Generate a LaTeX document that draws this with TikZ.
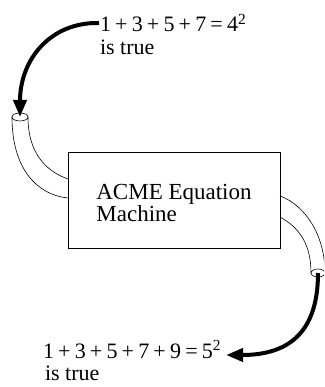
\documentclass[tikz,border=0pt]{standalone}
\usepackage{fontspec}
\setmainfont{Liberation Serif}
\usetikzlibrary{arrows.meta,shapes.geometric,calc}
% binary operator with math-like spacing in the text font
\newcommand\mop[1]{\hspace{0.19em}#1\hspace{0.19em}}
\tikzset{
  pipe/.style={line width=0.6pt},
  flow/.style={line width=4pt,-{Triangle[length=17pt,width=13pt]}},
  mouth/.style={ellipse,draw,line width=0.6pt,inner sep=0pt,outer sep=0pt,
    minimum width=#1,minimum height=8pt},
  machinebox/.style={draw,line width=0.8pt,inner sep=0pt,outer sep=0pt,
    minimum width=212pt,minimum height=96pt,align=left,
    font=\fontsize{23}{22}\selectfont},
  lbl/.style={inner sep=0pt,outer sep=0pt,anchor=base west,
    font=\fontsize{22}{23}\selectfont}
}
\begin{document}
\begin{tikzpicture}[x=1pt,y=-1pt]
  \fill[white] (0,0) rectangle (324,387);
  \useasboundingbox (0,0) rectangle (324,387);
  \clip (0,0) rectangle (324,387);

  % the machine (strut lowers the two lines a little inside the box)
  \node[machinebox] (machine) at (174,200) {\rule{0pt}{21.7pt}ACME Equation\\Machine};

  % inlet and outlet tubes
  \node[mouth=16pt] (inlet) at (20,117) {};
  \node[mouth=14pt] (outlet) at (318,273) {};
  \draw[pipe] (inlet.west) .. controls +(0,53) and +(-30,-3) .. ($(machine.west)+(0,-2)$);
  \draw[pipe] (inlet.east) .. controls +(0,38) and +(-20,-7) .. ($(machine.west)+(0,-21)$);
  \draw[pipe] ($(machine.east)+(0,-4)$) .. controls +(25,9) and +(0,-38) .. (outlet.east);
  \draw[pipe] ($(machine.east)+(0,17)$) .. controls +(20,11) and +(0,-28) .. (outlet.west);

  % input statement
  \node[lbl] (topeq) at (100,32) {1\mop{+}3\mop{+}5\mop{+}7\mop{=}4\textsuperscript{2}};
  \node[lbl] (toptrue) at (100,55) {is true};

  % output statement
  \node[lbl] (boteq) at (43,358) {1\mop{+}3\mop{+}5\mop{+}7\mop{+}9\mop{=}5\textsuperscript{2}};
  \node[lbl] (bottrue) at (45,380) {is true};

  % flow arrows
  \draw[flow] ($(topeq.base west)+(-1,-9)$) .. controls +(-49,-1) and +(0,-57) .. (inlet.center);
  \draw[flow] (outlet.center) .. controls +(0,57) and +(65,0) .. ($(boteq.base east)+(5,-3)$);
\end{tikzpicture}
\end{document}
